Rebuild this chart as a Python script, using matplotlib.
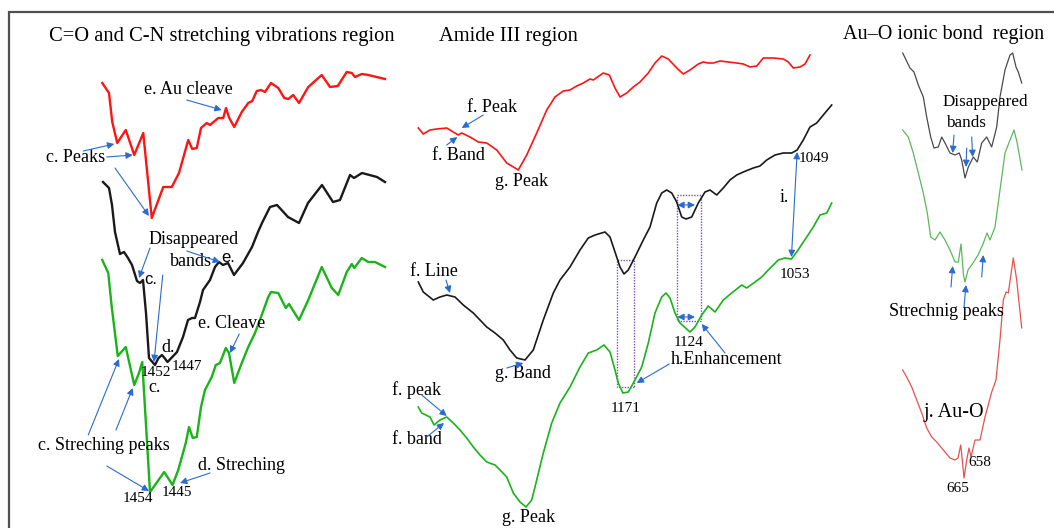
import matplotlib
matplotlib.use("Agg")
import matplotlib.pyplot as plt
from matplotlib.patches import Rectangle

plt.rcParams['font.family'] = ['Liberation Serif', 'DejaVu Serif']

# ---- C=O / C-N region (wavenumber cm-1, transmittance a.u.) ----
co_red_wn = [1473.1, 1470.4, 1469.1, 1467.1, 1463.7, 1460.3, 1456.7, 1453.3, 1448.7, 1445.3,
             1442.4, 1438.7, 1437.1, 1435.3, 1433.6, 1431.3, 1430.0, 1426.7, 1424.7, 1423.6,
             1422.3, 1420.3, 1417.3, 1414.7, 1413.1, 1411.3, 1409.6, 1408.0, 1405.6, 1402.7,
             1400.3, 1398.7, 1396.7, 1394.4, 1390.7, 1385.3, 1382.0, 1378.9, 1375.3, 1373.3,
             1372.0, 1369.3, 1366.7, 1360.0]
co_red_t = [445, 435, 406, 385, 398, 373, 395, 310, 341, 341,
            355, 388, 379, 380, 400, 405, 403, 410, 410, 420,
            410, 401, 416, 425, 427, 437, 438, 436, 445, 440,
            430, 429, 433, 425, 441, 453, 441, 442, 456, 455,
            451, 454, 453, 449]

co_black_wn = [1472.8, 1470.4, 1469.2, 1468.0, 1466.0, 1464.4, 1462.8, 1461.2, 1459.2, 1458.0,
               1456.8, 1455.6, 1454.4, 1452.0, 1450.6, 1449.2, 1448.2, 1447.0, 1443.2, 1440.8,
               1438.8, 1437.2, 1436.0, 1434.0, 1432.8, 1430.0, 1428.0, 1426.4, 1424.8, 1422.8,
               1420.4, 1416.8, 1413.2, 1410.8, 1409.2, 1406.0, 1403.2, 1398.8, 1394.4, 1390.8,
               1385.2, 1380.8, 1378.0, 1374.0, 1372.4, 1369.2, 1363.2, 1360.0]
co_black_t = [346, 340, 323, 296, 274, 276, 270, 263, 247, 245,
              248, 215, 170, 163, 170, 173, 170, 166, 176, 191,
              208, 210, 210, 226, 238, 248, 261, 266, 263, 265,
              253, 265, 281, 296, 305, 321, 323, 311, 305, 325,
              343, 326, 328, 353, 350, 355, 351, 346]

co_green_wn = [1473.1, 1470.7, 1469.3, 1466.9, 1463.7, 1460.3, 1458.4, 1457.1, 1454.0, 1448.3,
               1445.0, 1442.7, 1439.7, 1438.4, 1436.9, 1435.3, 1433.6, 1432.0, 1429.3, 1427.7,
               1426.0, 1423.7, 1422.4, 1420.3, 1417.3, 1414.7, 1412.0, 1409.3, 1406.7, 1405.6,
               1402.7, 1399.7, 1398.4, 1394.4, 1390.7, 1385.3, 1381.3, 1378.7, 1375.3, 1373.3,
               1372.3, 1369.3, 1366.7, 1364.0, 1360.0]
co_green_t = [268, 255, 221, 172, 181, 143, 155, 166, 36, 56,
              43, 58, 85, 101, 90, 91, 121, 138, 151, 163,
              165, 180, 175, 145, 165, 181, 195, 213, 231, 236,
              235, 220, 224, 208, 228, 261, 240, 233, 256, 264,
              260, 270, 266, 266, 261]

# ---- Amide III region ----
am_red_wn = [1314.2, 1310.7, 1306.0, 1301.3, 1294.3, 1289.7, 1286.2, 1283.8, 1278.0, 1272.2,
             1266.3, 1259.3, 1252.3, 1246.5, 1244.2, 1238.3, 1231.3, 1224.3, 1218.5, 1212.7,
             1208.0, 1203.3, 1198.7, 1194.0, 1191.7, 1184.7, 1180.5, 1176.5, 1173.0, 1168.3,
             1163.7, 1159.0, 1153.2, 1148.5, 1143.8, 1139.2, 1133.3, 1128.7, 1124.0, 1118.2,
             1114.7, 1111.2, 1107.7, 1103.0, 1097.2, 1091.3, 1086.7, 1082.0, 1077.3, 1072.7,
             1065.7, 1058.7, 1055.2, 1051.7, 1047.0, 1043.5, 1040.0]
am_red_t = [400, 394, 398, 399, 400, 396, 393, 395, 391, 386,
            385, 378, 365, 360, 358, 373, 395, 418, 431, 437,
            438, 442, 445, 449, 448, 455, 453, 440, 431, 435,
            441, 446, 455, 465, 472, 469, 460, 454, 458, 464,
            466, 465, 465, 467, 466, 465, 464, 461, 462, 470,
            470, 469, 466, 460, 461, 464, 473]

am_black_wn = [1314.2, 1310.7, 1303.7, 1299.0, 1294.3, 1288.5, 1282.7, 1275.7, 1271.0, 1266.3,
               1260.5, 1254.7, 1250.0, 1245.3, 1239.5, 1233.7, 1226.7, 1219.7, 1215.0, 1208.0,
               1201.0, 1195.2, 1190.5, 1183.5, 1180.0, 1176.5, 1173.0, 1170.2, 1167.2, 1162.5,
               1156.7, 1152.0, 1147.3, 1143.8, 1140.3, 1136.8, 1133.3, 1129.8, 1126.8, 1122.8,
               1118.2, 1113.5, 1110.0, 1105.3, 1100.7, 1096.0, 1091.3, 1086.7, 1079.7, 1075.0,
               1070.3, 1064.5, 1058.7, 1052.8, 1049.0, 1044.7, 1040.0, 1035.3, 1030.7, 1024.8]
am_black_t = [246, 236, 228, 231, 233, 231, 223, 215, 208, 201,
              195, 188, 178, 170, 168, 178, 208, 235, 248, 261,
              278, 290, 293, 296, 291, 276, 261, 254, 258, 271,
              288, 301, 325, 335, 338, 335, 326, 311, 309, 311,
              325, 336, 338, 333, 340, 348, 353, 356, 360, 362,
              368, 373, 375, 375, 378, 388, 401, 405, 413, 423]

am_green_wn = [1314.2, 1311.8, 1306.0, 1303.2, 1299.0, 1294.3, 1289.7, 1285.0, 1280.3, 1275.7,
               1271.0, 1266.3, 1260.5, 1257.0, 1252.3, 1247.7, 1243.0, 1238.8, 1234.8, 1231.3,
               1226.7, 1220.8, 1215.0, 1208.0, 1201.0, 1195.2, 1189.3, 1184.2, 1180.0, 1176.5,
               1174.2, 1171.0, 1167.2, 1162.5, 1157.8, 1153.2, 1148.5, 1143.8, 1140.8, 1138.0,
               1134.5, 1131.0, 1124.0, 1120.5, 1115.8, 1111.2, 1106.5, 1100.7, 1094.8, 1087.8,
               1084.3, 1078.5, 1073.8, 1069.2, 1062.2, 1057.5, 1053.0, 1049.3, 1042.3, 1037.7,
               1033.0, 1028.3, 1024.8]
am_green_t = [121, 115, 111, 103, 108, 111, 105, 98, 90, 81,
              73, 66, 63, 58, 51, 35, 26, 21, 28, 48,
              75, 105, 125, 141, 161, 175, 178, 183, 176, 158,
              145, 135, 136, 148, 161, 185, 215, 231, 235, 230,
              215, 205, 196, 201, 213, 222, 216, 228, 235, 243,
              240, 246, 251, 258, 268, 270, 269, 276, 291, 301,
              313, 315, 325]

# ---- Au-O ionic bond region ----
au_gray_wn = [726.3, 719.0, 715.0, 710.7, 705.7, 702.3, 698.3, 695.0, 690.7, 687.3,
              684.0, 679.0, 674.0, 669.7, 667.3, 664.0, 660.7, 655.7, 651.7, 647.3,
              642.3, 637.3, 632.3, 629.0, 624.0, 619.0, 616.3, 613.0, 610.7, 607.3]
au_gray_t = [475, 460, 456, 443, 431, 411, 391, 380, 381, 391,
             385, 375, 373, 375, 368, 350, 361, 371, 366, 385,
             391, 381, 401, 431, 458, 473, 475, 461, 456, 445]

au_green_wn = [726.3, 720.7, 715.7, 710.7, 705.7, 701.7, 698.3, 694.0, 689.0, 684.0,
               679.0, 674.0, 670.7, 668.0, 665.5, 664.0, 661.0, 656.0, 651.0, 646.0,
               642.0, 639.0, 634.0, 629.0, 624.0, 619.0, 615.0, 612.0, 607.0]
au_green_t = [398, 391, 375, 355, 335, 315, 291, 288, 296, 288,
              278, 266, 266, 284, 253, 246, 258, 265, 273, 284,
              295, 288, 301, 338, 375, 388, 398, 386, 358]

au_red_wn = [726.3, 722.3, 717.3, 712.3, 707.3, 702.3, 697.3, 692.3, 685.7, 679.0,
             674.0, 671.0, 668.3, 666.5, 665.0, 662.3, 660.0, 658.0, 654.0, 649.0,
             644.0, 637.3, 633.0, 629.0, 625.7, 623.0, 620.7, 615.7, 612.3, 607.3]
au_red_t = [158, 151, 141, 128, 115, 100, 91, 86, 78, 70,
            68, 70, 83, 66, 50, 68, 80, 71, 88, 88,
            111, 136, 148, 188, 228, 236, 235, 270, 248, 200]

BLUE = '#2a6bd1'
LAB = 13
NUM = 11


def arrow(ax, head, tail, both=False):
    style = '<|-|>' if both else '-|>'
    ax.annotate('', xy=head, xytext=tail,
                arrowprops=dict(arrowstyle=style, color=BLUE, lw=0.8,
                                mutation_scale=10, shrinkA=0, shrinkB=0))


fig = plt.figure(figsize=(10.54, 5.28), dpi=100)
fig.patch.set_facecolor('white')

W = 1054
ax1 = fig.add_axes([0, 0, 400 / W, 1])
ax2 = fig.add_axes([380 / W, 0, 460 / W, 1])
ax3 = fig.add_axes([840 / W, 0, 214 / W, 1])
ax1.set_xlim(1514, 1354)
ax2.set_xlim(1341, 1019)
ax3.set_xlim(789, 575)
for ax in (ax1, ax2, ax3):
    ax.set_ylim(0, 528)
    ax.axis('off')
    ax.patch.set_alpha(0)

# frame round the whole figure
fig.patches.append(Rectangle((9 / W, -0.02), 1.0, (528 - 12) / 528 + 0.02,
                             transform=fig.transFigure, fill=False,
                             edgecolor='#505050', lw=1.6))

# ---------------- panel 1 ----------------
ax1.plot(co_red_wn, co_red_t, color='#ff1414', lw=1.7)
ax1.plot(co_black_wn, co_black_t, color='#1a1a1a', lw=1.7)
ax1.plot(co_green_wn, co_green_t, color='#19b419', lw=1.7)

ax1.text(1425.4, 492, 'C=O and C-N stretching vibrations region', fontsize=14.8,
         ha='center', va='center')
ax1.text(1438.8, 438, 'e. Au cleave', fontsize=LAB, ha='center', va='center')
arrow(ax1, (1425.3, 418), (1439.3, 428))
ax1.text(1483.6, 371, 'c. Peaks', fontsize=LAB, ha='center', va='center')
arrow(ax1, (1468.3, 384), (1480.7, 377))
arrow(ax1, (1460.9, 373), (1471.3, 371))
arrow(ax1, (1454.4, 312), (1468, 360))
ax1.text(1436.6, 288, 'Disappeared', fontsize=LAB, ha='center', va='center')
ax1.text(1437.6, 266, 'bands', fontsize=LAB, ha='center', va='center')
arrow(ax1, (1458.4, 250), (1454, 280))
arrow(ax1, (1452.4, 166), (1448.9, 253))
arrow(ax1, (1426, 266), (1439.3, 277))
ax1.text(1422.6, 270, 'e.', fontsize=12, family='Liberation Sans', ha='center', va='center')
ax1.text(1456.2, 249, 'c.', fontsize=12, family='Liberation Sans', ha='left', va='center')
ax1.text(1446.9, 180, 'd.', fontsize=LAB, ha='center', va='center')
ax1.text(1451.6, 156, '1452', fontsize=NUM, ha='center', va='center')
ax1.text(1452.0, 140, 'c.', fontsize=LAB, ha='center', va='center')
ax1.text(1439.3, 161, '1447', fontsize=NUM, ha='center', va='center')
ax1.text(1421.3, 205, 'e. Cleave', fontsize=LAB, ha='center', va='center')
arrow(ax1, (1422, 175), (1418.3, 194))
ax1.text(1472.4, 83, 'c. Streching peaks', fontsize=LAB, ha='center', va='center')
arrow(ax1, (1466.4, 169), (1478.7, 93))
arrow(ax1, (1460.9, 140), (1467.6, 98))
arrow(ax1, (1454.4, 37), (1471.3, 62))
ax1.text(1417.3, 63, 'd. Streching', fontsize=LAB, ha='center', va='center')
arrow(ax1, (1442, 45), (1430, 55))
ax1.text(1458.7, 29, '1454', fontsize=NUM, ha='center', va='center')
ax1.text(1443.3, 35, '1445', fontsize=NUM, ha='center', va='center')

# ---------------- panel 2 ----------------
ax2.plot(am_red_wn, am_red_t, color='#ff1414', lw=1.2)
ax2.plot(am_black_wn, am_black_t, color='#1a1a1a', lw=1.2)
ax2.plot(am_green_wn, am_green_t, color='#19b419', lw=1.2)

ax2.text(1251.2, 492, 'Amide III region', fontsize=14.8, ha='center', va='center')
ax2.text(1262.8, 420, 'f. Peak', fontsize=LAB, ha='center', va='center')
arrow(ax2, (1283.8, 400), (1268.7, 413))
ax2.text(1286.2, 372, 'f. Band', fontsize=LAB, ha='center', va='center')
arrow(ax2, (1286.9, 391), (1294.3, 383))
ax2.text(1241.8, 346, 'g. Peak', fontsize=LAB, ha='center', va='center')
ax2.text(1047.7, 370, '1049', fontsize=NUM, ha='left', va='center')
arrow(ax2, (1049, 376), (1053, 271), both=True)
ax2.text(1058.2, 331, 'i.', fontsize=LAB, ha='center', va='center')
ax2.text(1050.5, 254, '1053', fontsize=NUM, ha='center', va='center')
ax2.text(1303.2, 257, 'f. Line', fontsize=LAB, ha='center', va='center')
arrow(ax2, (1292, 235), (1294.8, 248))
ax2.text(1241.1, 154, 'g. Band', fontsize=LAB, ha='center', va='center')
arrow(ax2, (1240.7, 165), (1252.3, 160))

for x0, y0, w, h in [(1163.2, 141, 12.1, 127), (1116.5, 207, 16.8, 126)]:
    ax2.add_patch(Rectangle((x0, y0), w, h, fill=False, edgecolor='#7a4fc0',
                            lw=1.0, linestyle=(0, (1, 1))))
arrow(ax2, (1120.5, 323), (1132.9, 323), both=True)
arrow(ax2, (1120.5, 211), (1132.9, 211), both=True)

ax2.text(1125.2, 186, '1124', fontsize=NUM, ha='center', va='center')
ax2.text(1098.3, 169, 'h.Enhancement', fontsize=LAB, ha='center', va='center')
arrow(ax2, (1161.3, 145), (1138.5, 164))
arrow(ax2, (1115.8, 204), (1099.5, 175))
ax2.text(1168.8, 120, '1171', fontsize=NUM, ha='center', va='center')
ax2.text(1315.3, 138, 'f. peak', fontsize=LAB, ha='center', va='center')
arrow(ax2, (1294.3, 112), (1311.8, 133))
ax2.text(1315.3, 88, 'f. band', fontsize=LAB, ha='center', va='center')
arrow(ax2, (1296.2, 105), (1308.3, 91))
ax2.text(1237.2, 10, 'g. Peak', fontsize=LAB, ha='center', va='center')

# ---------------- panel 3 ----------------
ax3.plot(au_gray_wn, au_gray_t, color='#4a4a4a', lw=0.9)
ax3.plot(au_green_wn, au_green_t, color='#5cb85c', lw=0.9)
ax3.plot(au_red_wn, au_red_t, color='#e4534f', lw=0.9)

ax3.text(685.7, 493, 'Au\u2013O ionic bond  region', fontsize=14.5, ha='center', va='center')
ax3.text(644, 426, 'Disappeared', fontsize=12.3, ha='center', va='center')
ax3.text(663, 405, 'bands', fontsize=12.3, ha='center', va='center')
arrow(ax3, (676.3, 375), (675, 393))
arrow(ax3, (656.3, 371), (657.3, 391))
arrow(ax3, (663, 361), (662.3, 380))
ax3.text(682.3, 216, 'Strechnig peaks', fontsize=LAB, ha='center', va='center')
arrow(ax3, (676.3, 262), (678, 241))
arrow(ax3, (663, 243), (665, 221))
arrow(ax3, (645.7, 273), (647.3, 251))
ax3.text(674.7, 116, 'j. Au-O', fontsize=14.5, ha='center', va='center')
ax3.text(649, 66, '658', fontsize=NUM, ha='center', va='center')
ax3.text(670.7, 40, '665', fontsize=NUM, ha='center', va='center')

fig.savefig('out.png', dpi=100)
